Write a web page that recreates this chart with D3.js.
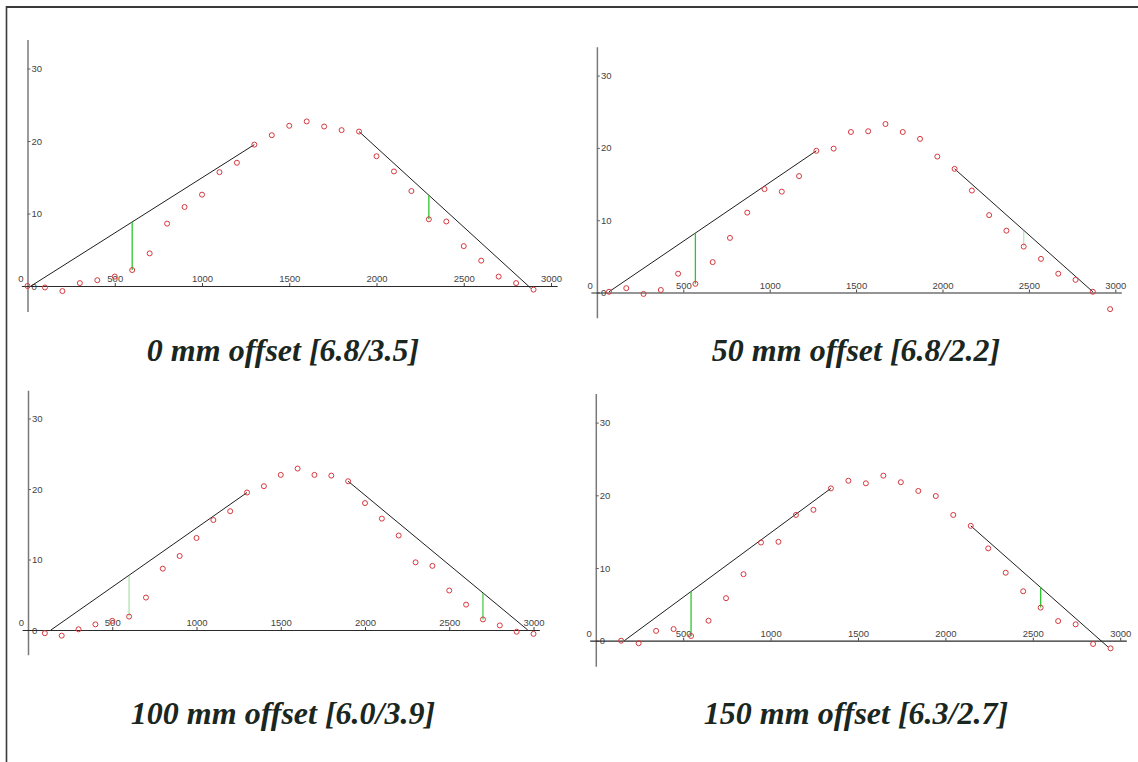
<!DOCTYPE html>
<html>
<head>
<meta charset="utf-8">
<script src="https://cdn.jsdelivr.net/npm/d3@7"></script>
<style>
  body { margin: 0; background: #fff; }
  svg { display: block; }
  .axis text { font-family: "Liberation Sans Narrow", "Arial Narrow", "Liberation Sans", Arial, sans-serif; font-size: 9.5px; fill: #444; }
  .panel-title { font-family: "Liberation Serif", "Times New Roman", serif; font-weight: bold; font-style: italic; font-size: 32px; fill: #1a2620; }
</style>
</head>
<body>
<svg id="chart" width="1138" height="762"></svg>
<script>
/* ---- data ---- */
const titles = ['0 mm offset [6.8/3.5]', '50 mm offset [6.8/2.2]', '100 mm offset [6.0/3.9]', '150 mm offset [6.3/2.7]'];
const xTickValues = [500, 1000, 1500, 2000, 2500, 3000];
const yTickValues = [0, 10, 20, 30];

// 0 mm offset
const dist0   = [0, 100, 200, 300, 400, 500, 600, 700, 800, 900, 1000, 1100, 1200, 1300, 1400, 1500, 1600, 1700, 1800, 1900, 2000, 2100, 2200, 2300, 2400, 2500, 2600, 2700, 2800, 2900];
const height0 = [0, -0.2, -0.7, 0.4, 0.8, 1.3, 2.2, 4.5, 8.6, 10.9, 12.6, 15.7, 17.0, 19.5, 20.8, 22.1, 22.7, 22.0, 21.5, 21.3, 17.9, 15.8, 13.1, 9.2, 8.9, 5.5, 3.5, 1.3, 0.4, -0.5];
const fitLeft0  = [[20, 0], [1300, 19.5]];
const fitRight0 = [[1900, 21.3], [2884, -0.3]];
const gap0 = [600, 2300];

// 50 mm offset
const dist1   = [70, 170, 270, 370, 470, 570, 670, 770, 870, 970, 1070, 1170, 1270, 1370, 1470, 1570, 1670, 1770, 1870, 1970, 2070, 2170, 2270, 2370, 2470, 2570, 2670, 2770, 2870, 2970];
const height1 = [0.1, 0.6, -0.2, 0.35, 2.6, 1.2, 4.2, 7.55, 11.05, 14.3, 13.95, 16.1, 19.6, 19.9, 22.2, 22.3, 23.3, 22.2, 21.25, 18.8, 17.1, 14.1, 10.7, 8.55, 6.35, 4.65, 2.6, 1.75, 0.1, -2.3];
const fitLeft1  = [[70, 0.1], [1270, 19.6]];
const fitRight1 = [[2070, 17.1], [2870, 0.1]];
const gap1 = [570, 2470];

// 100 mm offset
const dist2   = [100, 200, 300, 400, 500, 600, 700, 800, 900, 1000, 1100, 1200, 1300, 1400, 1500, 1600, 1700, 1800, 1900, 2000, 2100, 2200, 2300, 2400, 2500, 2600, 2700, 2800, 2900, 3000];
const height2 = [-0.45, -0.8, 0.1, 0.8, 1.3, 1.9, 4.6, 8.7, 10.5, 13.05, 15.6, 16.85, 19.5, 20.4, 22.0, 22.9, 22.0, 21.9, 21.1, 18.0, 15.8, 13.4, 9.6, 9.1, 5.6, 3.6, 1.5, 0.65, -0.25, -0.55];
const fitLeft2  = [[136, 0], [1300, 19.5]];
const fitRight2 = [[1900, 21.1], [2966, 0]];
const gap2 = [600, 2700];

// 150 mm offset
const dist3   = [145, 245, 345, 445, 545, 645, 745, 845, 945, 1045, 1145, 1245, 1345, 1445, 1545, 1645, 1745, 1845, 1945, 2045, 2145, 2245, 2345, 2445, 2545, 2645, 2745, 2845, 2945];
const height3 = [0.0, -0.35, 1.35, 1.6, 0.65, 2.75, 5.85, 9.15, 13.5, 13.6, 17.3, 18.0, 20.95, 22.0, 21.65, 22.7, 21.8, 20.6, 19.9, 17.3, 15.8, 12.7, 9.35, 6.8, 4.55, 2.7, 2.25, -0.45, -1.05];
const fitLeft3  = [[163, 0], [1345, 20.95]];
const fitRight3 = [[2145, 15.8], [2930, -0.85]];
const gap3 = [545, 2545];

/* ---- layout of each panel (pixels) ---- */
const layout = [
  { x0: 27.5,  sx: 0.1745, y0: 286,   ky: 7.25, tx: 283, ty: 361, greenOpacity: [1, 1] },
  { x0: 596.9, sx: 0.1728, y0: 292.5, ky: 7.23, tx: 856, ty: 361, greenOpacity: [1, 0.35] },
  { x0: 28,    sx: 0.1685, y0: 630,   ky: 7.05, tx: 283, ty: 724, greenOpacity: [0.4, 0.85] },
  { x0: 595.8, sx: 0.1748, y0: 640.7, ky: 7.27, tx: 856, ty: 724, greenOpacity: [1, 1] }
];

const panels = [
  { dist: dist0, height: height0, fits: [fitLeft0, fitRight0], gaps: gap0 },
  { dist: dist1, height: height1, fits: [fitLeft1, fitRight1], gaps: gap1 },
  { dist: dist2, height: height2, fits: [fitLeft2, fitRight2], gaps: gap2 },
  { dist: dist3, height: height3, fits: [fitLeft3, fitRight3], gaps: gap3 }
];

const xExtent = [-35, 3035];
const yExtent = [-3.5, 34];

const svg = d3.select('#chart');

svg.append('rect').attr('width', 1138).attr('height', 762).attr('fill', '#fff');

// frame (top/left edges of the scanned page)
svg.append('line').attr('x1', 6).attr('x2', 1138).attr('y1', 7).attr('y2', 7)
  .attr('stroke', '#3a3a3a').attr('stroke-width', 2);
svg.append('line').attr('x1', 6.5).attr('x2', 6.5).attr('y1', 6).attr('y2', 762)
  .attr('stroke', '#3a3a3a').attr('stroke-width', 1.6);

// value of a fit segment at distance x
function lineAt(seg, x) {
  const [[x1, y1], [x2, y2]] = seg;
  return y1 + (y2 - y1) * (x - x1) / (x2 - x1);
}

panels.forEach((p, i) => {
  const L = layout[i];
  const x = d3.scaleLinear()
    .domain(xExtent)
    .range([L.x0 + xExtent[0] * L.sx, L.x0 + xExtent[1] * L.sx]);
  const y = d3.scaleLinear()
    .domain(yExtent)
    .range([L.y0 - yExtent[0] * L.ky, L.y0 - yExtent[1] * L.ky]);

  const g = svg.append('g').attr('class', 'panel');

  // y axis
  const yAxis = g.append('g')
    .attr('class', 'axis')
    .attr('transform', `translate(${x(0)},0)`)
    .call(d3.axisRight(y).tickValues(yTickValues).tickFormat(d3.format('d'))
      .tickSizeInner(3).tickSizeOuter(0).tickPadding(1));
  yAxis.select('.domain').attr('stroke', '#7a7a7a').attr('stroke-width', 1.5);
  yAxis.selectAll('.tick line').attr('stroke', '#666');

  // x axis
  const xAxis = g.append('g')
    .attr('class', 'axis')
    .attr('transform', `translate(0,${y(0)})`)
    .call(d3.axisTop(x).tickValues(xTickValues).tickFormat(d3.format('d'))
      .tickSizeInner(3).tickSizeOuter(0).tickPadding(1));
  xAxis.select('.domain').attr('stroke', '#2a2a2a').attr('stroke-width', 1.2);
  xAxis.selectAll('.tick line').attr('stroke', '#444');

  // the x "0" label sits left of the y axis
  g.append('text')
    .attr('class', 'axis-zero')
    .attr('x', x(0) - 4)
    .attr('y', y(0) - 4)
    .attr('text-anchor', 'end')
    .style('font-family', '"Liberation Sans Narrow", "Arial Narrow", "Liberation Sans", Arial, sans-serif')
    .style('font-size', '9.5px')
    .style('fill', '#444')
    .text('0');

  // fitted straight lines
  g.selectAll('.fit')
    .data(p.fits)
    .join('line')
    .attr('class', 'fit')
    .attr('x1', d => x(d[0][0])).attr('y1', d => y(d[0][1]))
    .attr('x2', d => x(d[1][0])).attr('y2', d => y(d[1][1]))
    .attr('stroke', '#1e1e1e')
    .attr('stroke-width', 1);

  // green deviation markers
  const gapData = p.gaps.map((gx, k) => {
    const idx = p.dist.indexOf(gx);
    return { x: gx, lo: p.height[idx], hi: lineAt(p.fits[k], gx), op: L.greenOpacity[k] };
  });
  g.selectAll('.gap')
    .data(gapData)
    .join('line')
    .attr('class', 'gap')
    .attr('x1', d => x(d.x)).attr('x2', d => x(d.x))
    .attr('y1', d => y(d.lo)).attr('y2', d => y(d.hi))
    .attr('stroke', '#2fc42f')
    .attr('stroke-width', 1.3)
    .attr('opacity', d => d.op);

  // measured points
  g.selectAll('.pt')
    .data(p.dist.map((d, k) => [d, p.height[k]]))
    .join('circle')
    .attr('class', 'pt')
    .attr('cx', d => x(d[0]))
    .attr('cy', d => y(d[1]))
    .attr('r', 2.5)
    .attr('fill', 'none')
    .attr('stroke', '#d6383e')
    .attr('stroke-width', 1);

  // caption
  svg.append('text')
    .attr('class', 'panel-title')
    .attr('x', L.tx)
    .attr('y', L.ty)
    .attr('text-anchor', 'middle')
    .text(titles[i]);
});
</script>
</body>
</html>
